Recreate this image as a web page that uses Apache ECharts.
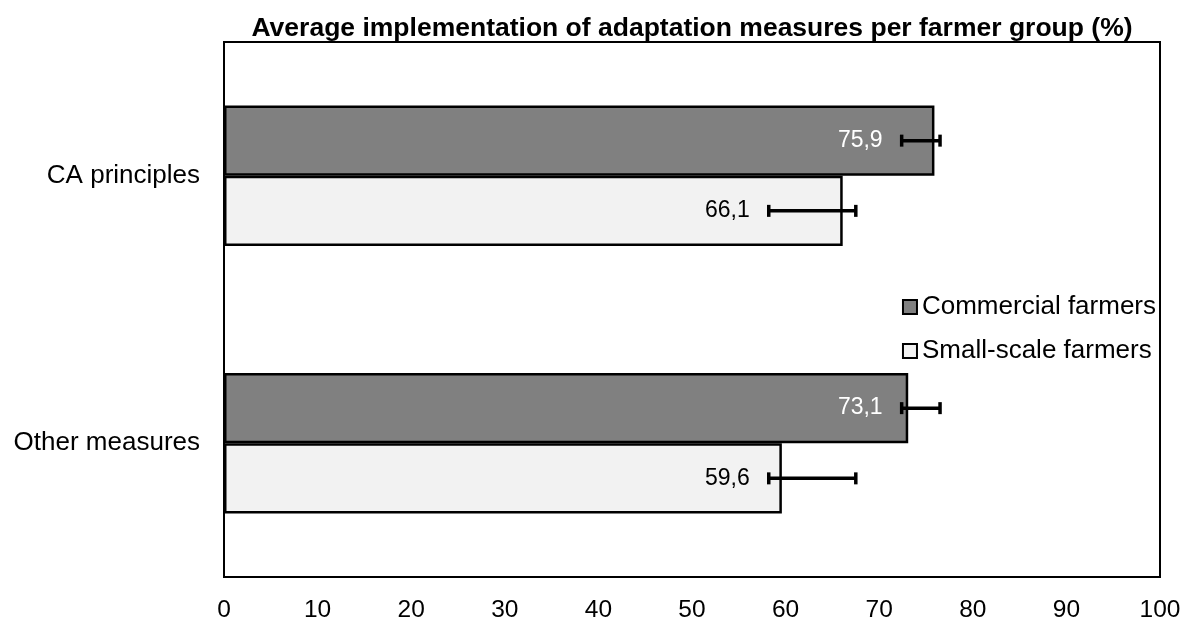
<!DOCTYPE html>
<html>
<head>
<meta charset="utf-8">
<script src="https://cdn.jsdelivr.net/npm/echarts@6/dist/echarts.min.js"></script>
<style>html,body{margin:0;padding:0;background:#fff}#c{width:1190px;height:623px}</style>
</head>
<body>
<div id="c"></div>
<script>
const categories = ['CA principles', 'Other measures'];
const seriesNames = ['Commercial farmers', 'Small-scale farmers'];
const commercial = [75.9, 73.1];
const smallScale = [66.1, 59.6];
const commercialErrLow = [72.4, 72.4];
const commercialErrHigh = [76.5, 76.5];
const smallErrLow = [58.2, 58.2];
const smallErrHigh = [67.5, 67.5];
const xTicks = [0, 10, 20, 30, 40, 50, 60, 70, 80, 90, 100];

const FONT = '"Liberation Sans", Arial, sans-serif';
const GAP = 0.475;
const fmt = v => String(v).replace('.', ',');

function errSeries(name, values, lows, highs, side, labelColor) {
  const data = categories.map((c, i) => [i, values[i], lows[i], highs[i]]);
  return {
    type: 'custom',
    name: name + ' error',
    z: 5,
    silent: true,
    encode: { x: [1, 2, 3], y: 0 },
    data: data,
    renderItem: function (params, api) {
      const ci = api.value(0);
      const lo = api.coord([api.value(2), ci]);
      const hi = api.coord([api.value(3), ci]);
      const band = api.size([0, 1])[1];
      const bw = band * (1 - GAP) / 2;
      const y = lo[1] + side * bw / 2;
      const cap = 6;
      const st = { stroke: '#000', lineWidth: 3.5 };
      return {
        type: 'group',
        children: [
          { type: 'line', shape: { x1: lo[0], y1: y, x2: hi[0], y2: y }, style: st },
          { type: 'line', shape: { x1: lo[0], y1: y - cap, x2: lo[0], y2: y + cap }, style: st },
          { type: 'line', shape: { x1: hi[0], y1: y - cap, x2: hi[0], y2: y + cap }, style: st },
          { type: 'text', x: lo[0] - 19, y: y, style: { text: fmt(api.value(1)), fill: labelColor, font: '23px ' + FONT, textAlign: 'right', textVerticalAlign: 'middle' } }
        ]
      };
    }
  };
}

const chart = echarts.init(document.getElementById('c'));
chart.setOption({
  animation: false,
  backgroundColor: '#fff',
  graphic: [{
    type: 'text', x: 692, y: 29,
    style: { text: 'Average implementation of adaptation measures per farmer group (%)', font: 'bold 26.5px ' + FONT, fill: '#000', textAlign: 'center', textVerticalAlign: 'middle' }
  }],
  grid: { left: 224, right: 30, top: 42, bottom: 46, show: true, borderColor: '#000', borderWidth: 2, backgroundColor: 'transparent' },
  legend: {
    orient: 'vertical', right: 29, top: 289, itemGap: 18,
    icon: 'rect', itemWidth: 14, itemHeight: 14,
    textStyle: { fontSize: 26, fontFamily: 'Liberation Sans', color: '#000' },
    data: seriesNames
  },
  xAxis: {
    type: 'value', min: 0, max: 100, interval: 10,
    axisLine: { show: false }, axisTick: { show: false }, splitLine: { show: false },
    axisLabel: { fontSize: 24.5, fontFamily: 'Liberation Sans', color: '#000', margin: 21, formatter: v => String(v) }
  },
  yAxis: {
    type: 'category', data: categories, inverse: true,
    axisLine: { show: false }, axisTick: { show: false },
    axisLabel: { fontSize: 26, fontFamily: 'Liberation Sans', color: '#000', margin: 24 }
  },
  series: [
    { type: 'bar', name: seriesNames[0], data: commercial, barGap: '0%', barCategoryGap: (GAP * 100) + '%',
      itemStyle: { color: '#808080', borderColor: '#000', borderWidth: 2.5 } },
    { type: 'bar', name: seriesNames[1], data: smallScale, barGap: '0%', barCategoryGap: (GAP * 100) + '%',
      itemStyle: { color: '#f2f2f2', borderColor: '#000', borderWidth: 2.5 } },
    errSeries(seriesNames[0], commercial, commercialErrLow, commercialErrHigh, -1, '#fff'),
    errSeries(seriesNames[1], smallScale, smallErrLow, smallErrHigh, 1, '#000')
  ]
});
</script>
</body>
</html>
